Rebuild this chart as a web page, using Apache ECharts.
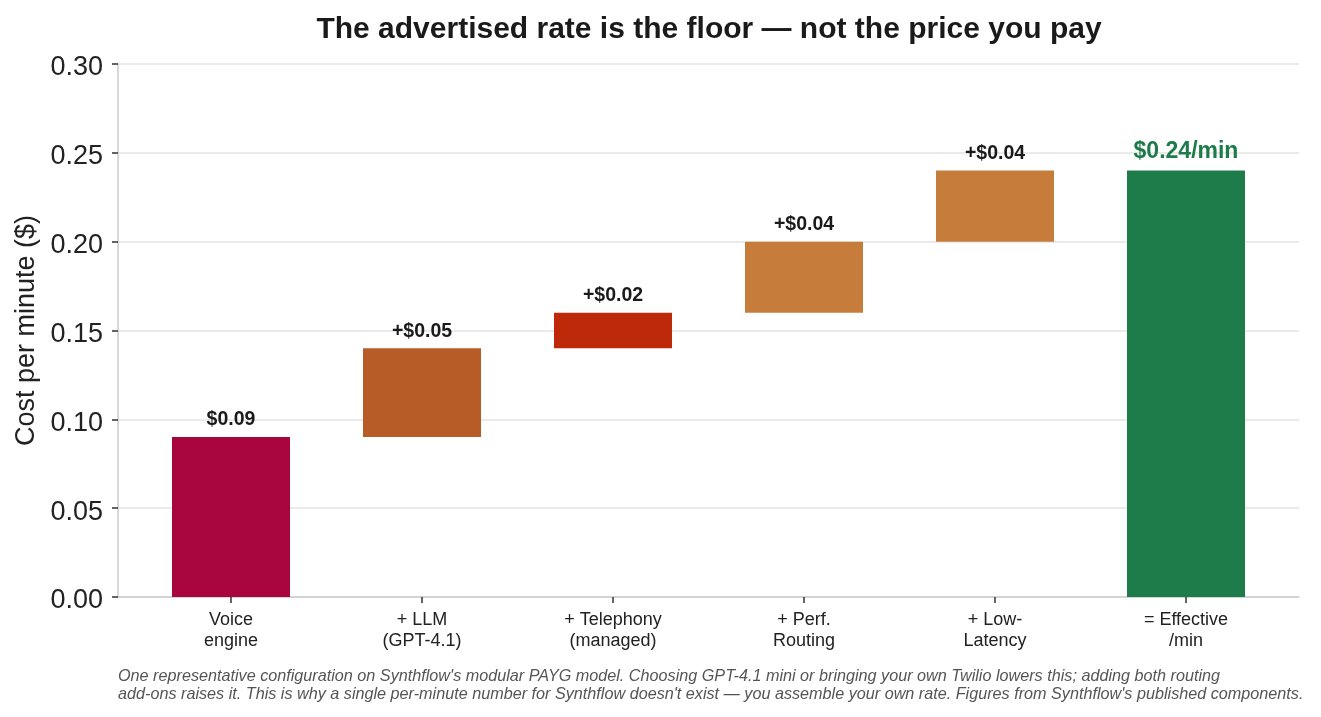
<!DOCTYPE html>
<html>
<head>
<meta charset="utf-8">
<style>
  html, body { margin: 0; padding: 0; background: #fff; }
  #chart { width: 1321px; height: 717px; }
</style>
<script src="https://cdn.jsdelivr.net/npm/echarts@6/dist/echarts.min.js"></script>
</head>
<body>
<div id="chart"></div>
<script>
// waterfall pieces, $ per minute
const categories = ['Voice\nengine', '+ LLM\n(GPT-4.1)', '+ Telephony\n(managed)', '+ Perf.\nRouting', '+ Low-\nLatency', '= Effective\n/min'];
const baseValues = [0, 0.09, 0.14, 0.16, 0.20, 0];
const stepValues = [0.09, 0.05, 0.02, 0.04, 0.04, 0.24];
const stepLabels = ['$0.09', '+$0.05', '+$0.02', '+$0.04', '+$0.04', '$0.24/min'];
const barColors = ['#A8053F', '#B85C27', '#BE290A', '#C67C3A', '#C67C3A', '#1E7B4A'];
const yTicks = [0, 0.05, 0.10, 0.15, 0.20, 0.25, 0.30];

const yMin = yTicks[0];
const yMax = yTicks[yTicks.length - 1];

const chart = echarts.init(document.getElementById('chart'));

chart.setOption({
  animation: false,
  textStyle: { fontFamily: 'Liberation Sans, Arial, sans-serif' },
  title: {
    text: 'The advertised rate is the floor \u2014 not the price you pay',
    left: 704,
    top: 10,
    textAlign: 'center',
    textStyle: { fontSize: 30, fontWeight: 'bold', color: '#1a1a1a' }
  },
  graphic: [{
    type: 'text',
    left: 118,
    top: 667,
    style: {
      text: "One representative configuration on Synthflow's modular PAYG model. Choosing GPT-4.1 mini or bringing your own Twilio lowers this; adding both routing\nadd-ons raises it. This is why a single per-minute number for Synthflow doesn't exist \u2014 you assemble your own rate. Figures from Synthflow's published components.",
      font: 'italic 16.2px Liberation Sans, Arial, sans-serif',
      fill: '#555',
      lineHeight: 18
    }
  }],
  // outer frame (axes + gridlines) and an inset grid holding the bars, so the
  // categories get padding at both ends like the original
  grid: [
    { left: 118, right: 22, top: 64, bottom: 120 },
    { left: 135.5, right: 39.5, top: 64, bottom: 120 }
  ],
  xAxis: [
    {
      gridIndex: 0,
      type: 'value',
      min: 0,
      max: 1,
      splitLine: { show: false },
      axisTick: { show: false },
      axisLabel: { show: false },
      axisLine: { show: true, onZero: false, lineStyle: { color: '#ccc', width: 1.5 } }
    },
    {
      gridIndex: 1,
      type: 'category',
      data: categories,
      axisLine: { show: false },
      axisTick: { show: true, alignWithLabel: true, length: 6, lineStyle: { color: '#333', width: 1.5 } },
      axisLabel: { fontSize: 18, color: '#222', lineHeight: 21, margin: 13 }
    }
  ],
  yAxis: [
    {
      gridIndex: 0,
      type: 'value',
      min: yMin,
      max: yMax,
      interval: 0.05,
      name: 'Cost per minute ($)',
      nameLocation: 'middle',
      nameGap: 78,
      nameTextStyle: { fontSize: 27, color: '#222' },
      axisLine: { show: true, onZero: false, lineStyle: { color: '#ccc', width: 1.5 } },
      axisTick: { show: true, length: 6, lineStyle: { color: '#333', width: 1.5 } },
      axisLabel: {
        margin: 15,
        formatter: v => '{t|' + v.toFixed(2) + '}',
        rich: { t: { fontSize: 27, color: '#222', padding: [8, 0, 0, 0] } }
      },
      splitLine: { lineStyle: { color: '#e3e3e3', width: 1.5 } }
    },
    {
      gridIndex: 1,
      type: 'value',
      min: yMin,
      max: yMax,
      show: false,
      splitLine: { show: false }
    }
  ],
  series: [
    {
      type: 'bar',
      xAxisIndex: 1,
      yAxisIndex: 1,
      stack: 'w',
      data: baseValues,
      itemStyle: { color: 'transparent' },
      emphasis: { disabled: true },
      barWidth: 118
    },
    {
      type: 'bar',
      xAxisIndex: 1,
      yAxisIndex: 1,
      stack: 'w',
      barWidth: 118,
      data: stepValues.map((v, i) => {
        const last = i === stepValues.length - 1;
        return {
          value: v,
          itemStyle: { color: barColors[i] },
          label: last
            ? { fontSize: 23, color: '#1E7B4A', fontWeight: 'bold' }
            : { fontSize: 19.5, color: '#1a1a1a', fontWeight: 'bold' }
        };
      }),
      label: {
        show: true,
        position: 'top',
        distance: 7,
        formatter: p => stepLabels[p.dataIndex]
      }
    }
  ]
});
</script>
</body>
</html>
